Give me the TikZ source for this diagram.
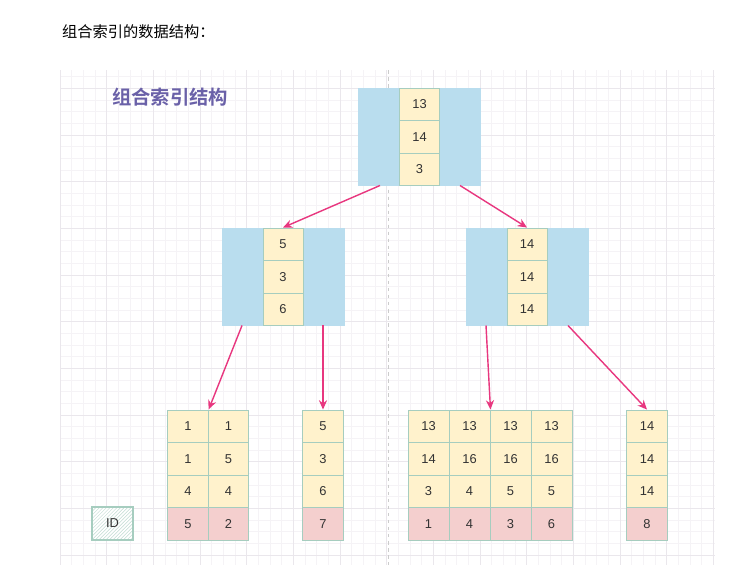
\documentclass[tikz,border=0pt]{standalone}
\usepackage{fontspec}
\setmainfont{Liberation Sans}
\newfontfamily\cjk[BoldFont={Noto Sans CJK SC Bold}]{Noto Sans CJK SC}
\usepackage{tikz}
\usetikzlibrary{positioning,calc,patterns,arrows.meta}
\definecolor{IdxBlue}{HTML}{B9DDEE}
\definecolor{IdxYellow}{HTML}{FFF2CC}
\definecolor{IdxPink}{HTML}{F4CFCE}
\definecolor{IdxStroke}{HTML}{A6CDBF}
\definecolor{IdxArrow}{HTML}{E8377F}
\definecolor{IdxTitle}{HTML}{6A61A8}
\definecolor{IdxGrid}{HTML}{F5F3F6}
\definecolor{IdxGridMajor}{HTML}{EAE7EC}
\definecolor{IdxText}{HTML}{333333}

\begin{document}
\begin{tikzpicture}[x=0.03cm, y=-0.03cm,
    keycell/.style={draw=IdxStroke, fill=IdxYellow, line width=0.8pt, inner sep=0pt,
      minimum width=1.21cm, minimum height=0.975cm, text=IdxText, font=\fontsize{11}{13}\selectfont},
    idcell/.style={keycell, fill=IdxPink},
    inner/.style={fill=IdxBlue, draw=IdxBlue, minimum width=3.66cm, minimum height=2.91cm, inner sep=0pt},
    link/.style={IdxArrow, line width=1.2pt, -{Stealth[length=8pt, width=7pt]}}]
  \useasboundingbox (0,0) rectangle (734,586);

  %% Background grid
  \fill[white] (0,0) rectangle (734,586);
  \foreach \i in {0,...,56}
    \draw[IdxGrid, line width=0.5pt] ({60+11.667*\i},70) -- ({60+11.667*\i},565);
  \foreach \j in {0,...,41}
    \draw[IdxGrid, line width=0.5pt] (60,{76.6+11.667*\j}) -- (715,{76.6+11.667*\j});
  \foreach \i in {0,...,14}
    \draw[IdxGridMajor, line width=0.6pt] ({60+46.667*\i},70) -- ({60+46.667*\i},565);
  \foreach \j in {0,...,10}
    \draw[IdxGridMajor, line width=0.6pt] (60,{88.3+46.667*\j}) -- (715,{88.3+46.667*\j});
  \draw[black!20, line width=0.8pt, dash pattern=on 3pt off 3pt] (388,70) -- (388,565);

  %% Headings
  \node[anchor=west, inner sep=0pt, font=\cjk\fontsize{13}{15}\selectfont] (caption) at (62,32) {组合索引的数据结构：};
  \node[anchor=west, inner sep=0pt, text=IdxTitle, font=\cjk\bfseries\fontsize{16.5}{18}\selectfont] (title) at (112,97) {组合索引结构};

  %% Root node
  \node[inner] (root) at (419,136.75) {};
  \foreach \r/\y/\v in {1/104.25/13, 2/136.75/14, 3/169.25/3}
    \node[keycell, minimum width=1.18cm] (root\r) at (419.5,\y) {\v};

  %% Inner nodes
  \node[inner] (L) at (283,276.75) {};
  \foreach \r/\y/\v in {1/244.25/5, 2/276.75/3, 3/309.25/6}
    \node[keycell, minimum width=1.2cm] (L\r) at (283,\y) {\v};
  \node[inner] (R) at (527,276.75) {};
  \foreach \r/\y/\v in {1/244.25/14, 2/276.75/14, 3/309.25/14}
    \node[keycell, minimum width=1.2cm] (R\r) at (527,\y) {\v};

  %% Leaf pages
  \foreach \r/\y/\a/\b in {1/426.25/1/1, 2/458.75/1/5, 3/491.25/4/4} {%
    \node[keycell] (a\r1) at (188,\y) {\a};
    \node[keycell] (a\r2) at (228.5,\y) {\b};
  }
  \node[idcell] (a41) at (188,523.75) {5};
  \node[idcell] (a42) at (228.5,523.75) {2};

  \foreach \r/\y/\v in {1/426.25/5, 2/458.75/3, 3/491.25/6}
    \node[keycell] (b\r) at (323,\y) {\v};
  \node[idcell] (b4) at (323,523.75) {7};

  \foreach \r/\y/\a/\b/\c/\d in {1/426.25/13/13/13/13, 2/458.75/14/16/16/16, 3/491.25/3/4/5/5} {%
    \node[keycell, minimum width=1.23cm] (c\r1) at (428.5,\y) {\a};
    \node[keycell, minimum width=1.23cm] (c\r2) at (469.5,\y) {\b};
    \node[keycell, minimum width=1.23cm] (c\r3) at (510.5,\y) {\c};
    \node[keycell, minimum width=1.23cm] (c\r4) at (551.5,\y) {\d};
  }
  \foreach \k/\x/\v in {1/428.5/1, 2/469.5/4, 3/510.5/3, 4/551.5/6}
    \node[idcell, minimum width=1.23cm] (c4\k) at (\x,523.75) {\v};

  \foreach \r/\y/\v in {1/426.25/14, 2/458.75/14, 3/491.25/14}
    \node[keycell] (d\r) at (647,\y) {\v};
  \node[idcell] (d4) at (647,523.75) {8};

  %% ID legend
  \node[draw=IdxStroke, line width=1.2pt, preaction={fill=white},
        pattern=north east lines, pattern color=IdxStroke!70,
        minimum width=1.23cm, minimum height=0.99cm, text=IdxText,
        font=\fontsize{11}{13}\selectfont] (idkey) at (112.5,523.5) {ID};

  %% Pointers
  \coordinate (rootL) at ($(root.south)+(-39,0)$);
  \coordinate (rootR) at ($(root.south)+(41,0)$);
  \coordinate (LL) at ($(L.south)+(-41,0)$);
  \coordinate (LR) at ($(L.south)+(40,0)$);
  \coordinate (RL) at ($(R.south)+(-41,0)$);
  \coordinate (RR) at ($(R.south)+(41,0)$);
  \draw[link] (rootL) -- (L1.north);
  \draw[link] (rootR) -- (R1.north);
  \draw[link] (LL) -- (a11.north east);
  \draw[link] (LR) -- (b1.north);
  \draw[link] (RL) -- (c12.north east);
  \draw[link] (RR) -- (d1.north);
\end{tikzpicture}
\end{document}
